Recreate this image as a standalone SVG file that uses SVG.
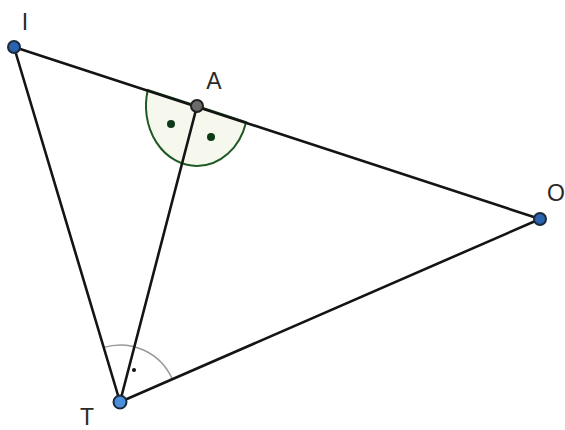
<svg xmlns="http://www.w3.org/2000/svg" width="565" height="430" viewBox="0 0 565 430">
<style>
.seg{stroke:#141414;stroke-width:2.6;fill:none;stroke-linecap:round}
.lbl{font-family:"Liberation Sans",Arial,sans-serif;font-size:23px;fill:#2a2a2a}
.pt{stroke:#1c2a3a;stroke-width:2}
</style>
<rect width="565" height="430" fill="#ffffff"/>
<g id="angle-A">
<path d="M197 106 L147.8 90.1 A51 60 0 0 0 197 166 A51 60 0 0 0 246.1 122.2 Z" fill="#f6f8ee" stroke="#1e5a22" stroke-width="2"/>
<circle cx="171" cy="124" r="4" fill="#0e3a18"/>
<circle cx="211" cy="137" r="4" fill="#0e3a18"/>
</g>
<g id="angle-T">
<path d="M103.7 347.4 A57 57 0 0 1 172.3 379.2" fill="none" stroke="#9a9a9a" stroke-width="1.5"/>
<circle cx="134" cy="370" r="2" fill="#111"/>
</g>
<g id="connectors">
<line class="seg" x1="14" y1="47" x2="540" y2="219"/>
<line class="seg" x1="14" y1="47" x2="120" y2="402"/>
<line class="seg" x1="120" y1="402" x2="197" y2="106"/>
<line class="seg" x1="120" y1="402" x2="540" y2="219"/>
</g>
<g id="node-I">
<circle class="pt" cx="14" cy="47" r="6" fill="#2a64b0"/>
<text class="lbl" x="25" y="30" text-anchor="middle">I</text>
</g>
<g id="node-A">
<circle cx="197" cy="106" r="6" fill="#6a6a6a" stroke="#202020" stroke-width="2"/>
<text class="lbl" x="214" y="89" text-anchor="middle">A</text>
</g>
<g id="node-O">
<circle class="pt" cx="540" cy="219" r="6" fill="#2a64b0"/>
<text class="lbl" x="556" y="201" text-anchor="middle">O</text>
</g>
<g id="node-T">
<circle class="pt" cx="120" cy="402" r="6.5" fill="#4a8fdc"/>
<text class="lbl" x="87" y="425" text-anchor="middle">T</text>
</g>
</svg>
